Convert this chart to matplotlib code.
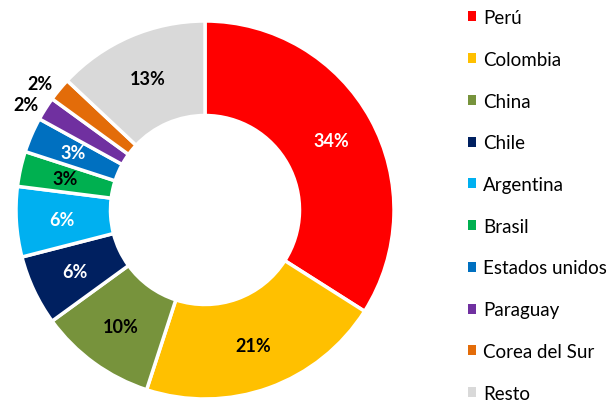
import matplotlib
matplotlib.use("Agg")
import matplotlib.pyplot as plt
import numpy as np

plt.rcParams['font.family'] = ['Lato', 'DejaVu Sans']

categories = ["Perú", "Colombia", "China", "Chile", "Argentina", "Brasil",
              "Estados unidos", "Paraguay", "Corea del Sur", "Resto"]
values = [34, 21, 10, 6, 6, 3, 3, 2, 2, 13]
colors = ["#FF0000", "#FFC000", "#77933C", "#002060", "#00B0F0", "#00B050",
          "#0070C0", "#7030A0", "#E36C09", "#D9D9D9"]
label_colors = ["white", "black", "black", "white", "white", "black",
                "white", "black", "black", "black"]
outside = [False, False, False, False, False, False, False, True, True, False]

W, H = 616, 402
fig = plt.figure(figsize=(W / 100, H / 100), dpi=100)
cx, cy, R = 205, 211, 189
ax = fig.add_axes([(cx - R) / W, (H - cy - R) / H, 2 * R / W, 2 * R / H])

wedges, _ = ax.pie(values, colors=colors, startangle=90, counterclock=False,
                   radius=1, wedgeprops=dict(width=0.5, edgecolor='white', linewidth=2.5))
ax.set_xlim(-1, 1)
ax.set_ylim(-1, 1)
ax.set_aspect('equal')
ax.axis('off')

total = sum(values)
cum = 0
for i, v in enumerate(values):
    mid = 90 - 360 * (cum + v / 2) / total
    cum += v
    if outside[i]:
        a = np.deg2rad(mid + 2)
        r = 1.1
        ax.text(r * np.cos(a), r * np.sin(a), f"{v}%", ha='center', va='center',
                fontsize=13, fontweight='bold', color='black', clip_on=False)
    else:
        a = np.deg2rad(mid)
        r = 0.76
        ax.text(r * np.cos(a), r * np.sin(a), f"{v}%", ha='center', va='center',
                fontsize=13, fontweight='bold', color=label_colors[i])

leg = fig.legend(wedges, categories, loc='upper left',
                 bbox_to_anchor=(468 / W, 1 - 10 / H), frameon=False,
                 fontsize=13.5, handlelength=0.45, handleheight=0.45,
                 handletextpad=0.35, labelspacing=1.32, borderpad=0, borderaxespad=0)
for h in leg.legend_handles:
    h.set_linewidth(0)

fig.savefig("out.png", dpi=100)
